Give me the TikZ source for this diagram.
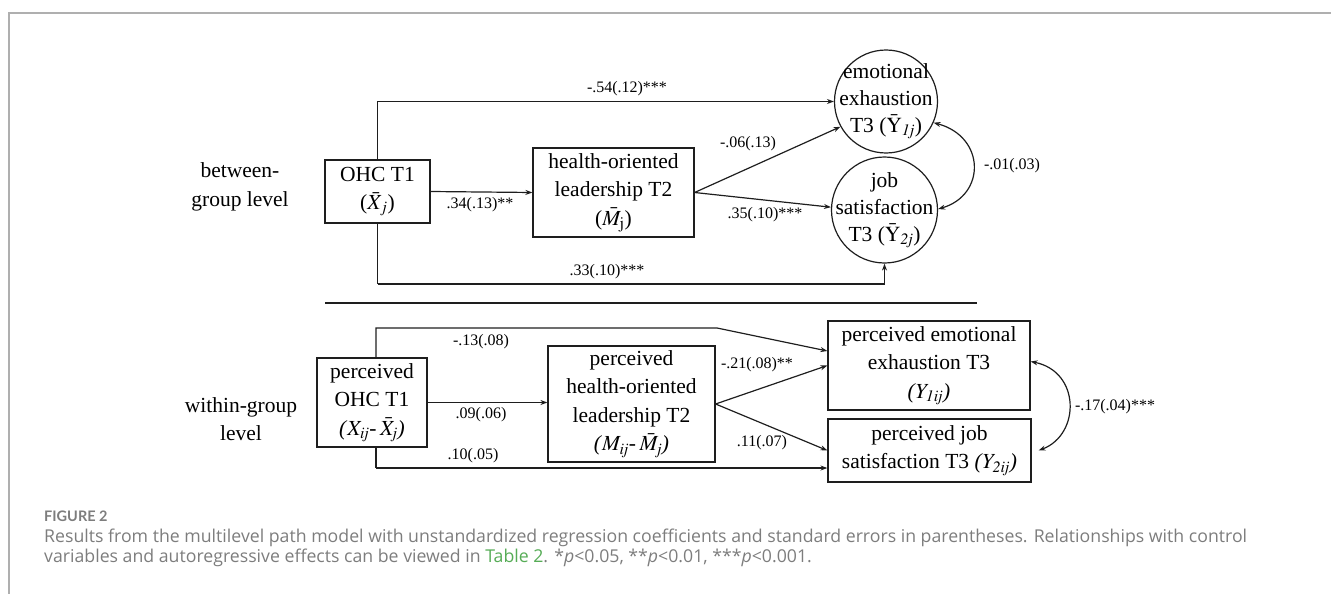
\documentclass[tikz,border=0pt]{standalone}
\usepackage{mathptmx}
\usepackage{fontspec}
\setmainfont{Liberation Serif}
\newfontfamily\capfont{Open Sans}
\newfontfamily\figfont{Lato}
\usetikzlibrary{arrows.meta}
\definecolor{capgray}{RGB}{125,125,125}
\definecolor{framegray}{RGB}{175,175,175}
\definecolor{tablegreen}{RGB}{86,172,86}
\definecolor{ink}{RGB}{30,30,30}
\newcommand\boxfont{\fontsize{21.5}{28.5}\selectfont}
\newcommand\circfont{\fontsize{21.5}{27}\selectfont}
\newcommand\labfont{\fontsize{16}{18}\selectfont}
\begin{document}
\begin{tikzpicture}[x=1pt,y=-1pt,
  box/.style={draw=ink, line width=1.2pt, inner sep=0pt, align=center, font=\boxfont},
  circ/.style={draw=ink, line width=1.2pt, circle, inner sep=0pt},
  ctext/.style={align=center, font=\circfont, inner sep=0pt},
  arr/.style={draw=ink, line width=1.2pt, -{Stealth[length=7pt,width=5pt]}},
  dblarr/.style={draw=ink, line width=1.2pt, {Stealth[length=7pt,width=5pt]}-{Stealth[length=7pt,width=5pt]}},
  plain/.style={draw=ink, line width=1.2pt},
  lab/.style={font=\labfont, inner sep=0pt},
  level/.style={align=center, font=\boxfont, inner sep=0pt},
  captext/.style={font=\capfont\fontsize{17.7}{20.5}\selectfont, text=capgray, anchor=west, inner sep=0pt, align=left}
]
\path[use as bounding box] (0,0) rectangle (1331,594);
% frame
\draw[framegray, line width=1.5pt] (9,594) -- (9,13) -- (1331,13);

% ---------- between-group level ----------
\node[level] (blev) at (240,187) {between-\\group level};
\node[box, minimum width=105pt, minimum height=63pt] (ohc) at (377.5,191.5) {OHC T1\\($\bar{X}_j$)};
\node[box, minimum width=161pt, minimum height=89pt] (hol) at (613.5,192.5) {health-oriented\\leadership T2\\($\bar{M}_{\mathrm{j}}$)};
\node[circ, minimum size=103pt] (emo) at (886,101.5) {};
\node[ctext] (emot) at (emo.center) {emotional\\exhaustion\\T3 ($\bar{\mathrm{Y}}_{\mathit{1j}}$)};
\node[circ, minimum size=106pt] (job) at (884.5,210) {};
\node[ctext] (jobt) at (job.center) {job\\satisfaction\\T3 ($\bar{\mathrm{Y}}_{\mathit{2j}}$)};
\coordinate (bbot) at (0,284);

\draw[arr] (ohc.north) |- (emo.west);
\draw[arr] (ohc.east) -- (hol.west);
\draw[arr] (hol.east) -- (emo.209);
\draw[arr] (hol.east) -- (job.177);
\draw[plain] (ohc.south) -- (ohc.south |- bbot);
\draw[arr] (ohc.south |- bbot) -| (job.south);
\draw[dblarr] (emo.-24) .. controls +(52,14) and +(48,-14) .. (job.1);

\node[lab] (l1) at (627,89) {-.54(.12)***};
\node[lab] (l2) at (480,205) {.34(.13)**};
\node[lab] (l3) at (748,144) {-.06(.13)};
\node[lab] (l4) at (765,215) {.35(.10)***};
\node[lab] (l5) at (607,272) {.33(.10)***};
\node[lab] (l6) at (1012,166) {-.01(.03)};

% separator
\coordinate (sepa) at (325,303);
\coordinate (sepb) at (977,303);
\draw[ink, line width=2.2pt] (sepa) -- (sepb);

% ---------- within-group level ----------
\node[level] (wlev) at (241,419) {within-group\\level};
\node[box, minimum width=110pt, minimum height=89pt] (pohc) at (372,402.5) {perceived\\OHC T1\\\textit{(}$X_{\mathit{ij}}$-\,$\bar{X}_{\mathit{j}}$\textit{)}};
\node[box, minimum width=167pt, minimum height=116pt] (phol) at (631.5,404) {perceived\\health-oriented\\leadership T2\\\textit{(}$M_{\mathit{ij}}$-\,$\bar{M}_{\mathit{j}}$\textit{)}};
\node[box, minimum width=202pt, minimum height=89pt] (pemo) at (929,365.5) {perceived emotional\\exhaustion T3\\\textit{(}$Y_{\mathit{1ij}}$\textit{)}};
\node[box, minimum width=203pt, minimum height=63pt] (pjob) at (929.5,450.5) {perceived job\\satisfaction T3 \textit{(}$Y_{\mathit{2ij}}$\textit{)}};
\coordinate (wtop) at (717,328);
\coordinate (wbot) at (0,468);

\draw[arr] ([xshift=4pt]pohc.north) |- (wtop) -- ([yshift=14.5pt]pemo.west);
\draw[arr] (pohc.east) -- (pohc.east -| phol.west);
\draw[arr] (phol.east) -- (pemo.west);
\draw[arr] (phol.east) -- (pjob.west);
\draw[plain] ([xshift=4pt]pohc.south) -- ([xshift=4pt]pohc.south |- wbot);
\draw[arr] ([xshift=4pt]pohc.south |- wbot) -- (pjob.west |- wbot);
\draw[dblarr] ([yshift=4pt]pemo.east) .. controls +(50,10) and +(42,-16) .. ([xshift=7pt]pjob.east);

\node[lab] (m1) at (481,342) {-.13(.08)};
\node[lab] (m2) at (481,415) {.09(.06)};
\node[lab] (m3) at (473,456) {.10(.05)};
\node[lab] (m4) at (757,365) {-.21(.08)**};
\node[lab] (m5) at (762,443) {.11(.07)};
\node[lab] (m6) at (1115,407) {-.17(.04)***};

% ---------- caption ----------
\node[captext, font=\figfont\fontsize{14.5}{18}\selectfont\bfseries] (figt) at (44,516) {FIGURE 2};
\node[captext] (capt) at (44,548) {Results from the multilevel path model with unstandardized regression coefficients and standard errors in parentheses. Relationships with control\\variables and autoregressive effects can be viewed in \textcolor{tablegreen}{Table 2}. *\textit{p}<0.05, **\textit{p}<0.01, ***\textit{p}<0.001.};
\end{tikzpicture}
\end{document}
